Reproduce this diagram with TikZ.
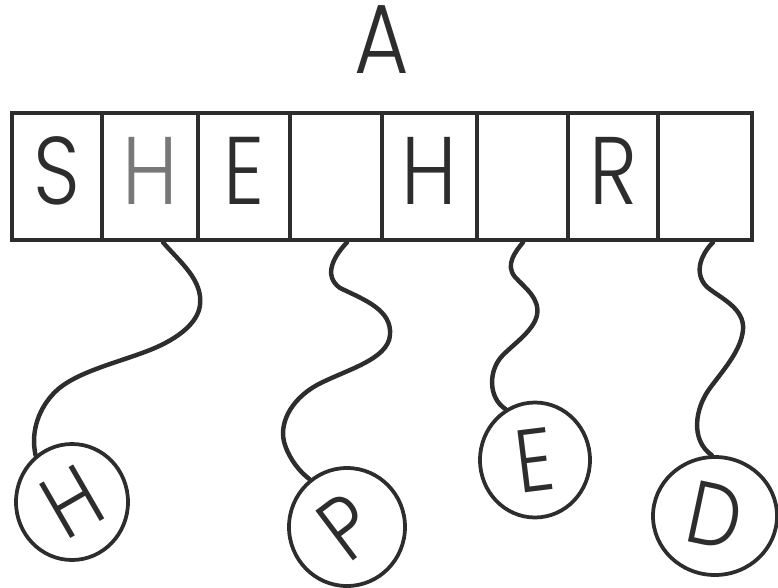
\documentclass[tikz,border=0pt]{standalone}
\usepackage{fontspec}
\IfFontExistsTF{Poppins Light}{\setmainfont{Poppins Light}[FakeStretch=0.85]}{\setmainfont{Poppins}[FakeStretch=0.85]}
\usetikzlibrary{shapes.geometric,calc}
\definecolor{ink}{RGB}{45,45,45}
\definecolor{dotink}{RGB}{120,120,120}
\tikzset{
  cell/.style={draw=ink, line width=4pt, minimum height=3.81cm, inner sep=0pt,
    text depth=0.35cm, text=ink, font=\fontsize{82}{84}\selectfont},
  balloon/.style={ellipse, draw=ink, line width=3.2pt, inner sep=0pt, text=ink,
    font=\fontsize{76}{78}\selectfont},
  string/.style={draw=ink, line width=3.8pt, line cap=round},
  title/.style={text=ink, font=\fontsize{84}{86}\selectfont, inner sep=0pt}
}
\begin{document}
\begin{tikzpicture}[x=0.03cm,y=-0.03cm]
\useasboundingbox[fill=white] (0,0) rectangle (778,588);
\node[title] (A) at (382,40) {A};
% cells
\node[cell, minimum width=2.70cm] (c1) at (57,176.5) {S};
\node[cell, minimum width=2.88cm, text=dotink] (c2) at (150,176.5) {H};
\node[cell, minimum width=2.76cm] (c3) at (244,176.5) {E};
\node[cell, minimum width=2.76cm] (c4) at (336,176.5) {};
\node[cell, minimum width=2.85cm] (c5) at (429.5,176.5) {H};
\node[cell, minimum width=2.73cm] (c6) at (522.5,176.5) {};
\node[cell, minimum width=2.70cm] (c7) at (613,176.5) {R};
\node[cell, minimum width=2.82cm] (c8) at (705,176.5) {};
% balloons
\node[balloon, minimum width=3.36cm, minimum height=3.48cm] (b1) at (72,502) {\rotatebox{30}{H}};
\node[balloon, minimum width=3.48cm, minimum height=3.54cm] (b2) at (347,527) {\rotatebox{37}{P}};
\node[balloon, minimum width=3.30cm, minimum height=3.45cm] (b3) at (535,460) {\rotatebox{7}{E}};
\node[balloon, minimum width=3.72cm, minimum height=3.54cm] (b4) at (715,516) {\rotatebox{-12}{D}};
% strings
\draw[string] ($(c2.south)+(13,0)$) .. controls (180,262) and (203,280) .. (200,305)
  .. controls (198,322) and (180,338) .. (150,350)
  .. controls (120,362) and (75,372) .. (55,392)
  .. controls (40,407) and (30,430) .. (b1.128);
\draw[string] ($(c4.south)+(11,0)$) .. controls (335,255) and (322,275) .. (340,288)
  .. controls (365,300) and (392,310) .. (390,335)
  .. controls (388,360) and (345,370) .. (317,385)
  .. controls (290,400) and (278,425) .. (285,445)
  .. controls (290,460) and (300,472) .. (b2.128);
\draw[string] ($(c6.south)+(0.5,0)$) .. controls (515,252) and (505,265) .. (515,277)
  .. controls (525,288) and (540,298) .. (537,315)
  .. controls (534,330) and (515,343) .. (503,355)
  .. controls (488,370) and (488,398) .. (b3.120);
\draw[string] ($(c8.south)+(8,0)$) .. controls (703,252) and (692,272) .. (707,287)
  .. controls (720,298) and (745,308) .. (743,330)
  .. controls (741,350) and (725,368) .. (710,388)
  .. controls (695,408) and (690,440) .. (b4.93);
\end{tikzpicture}
\end{document}
